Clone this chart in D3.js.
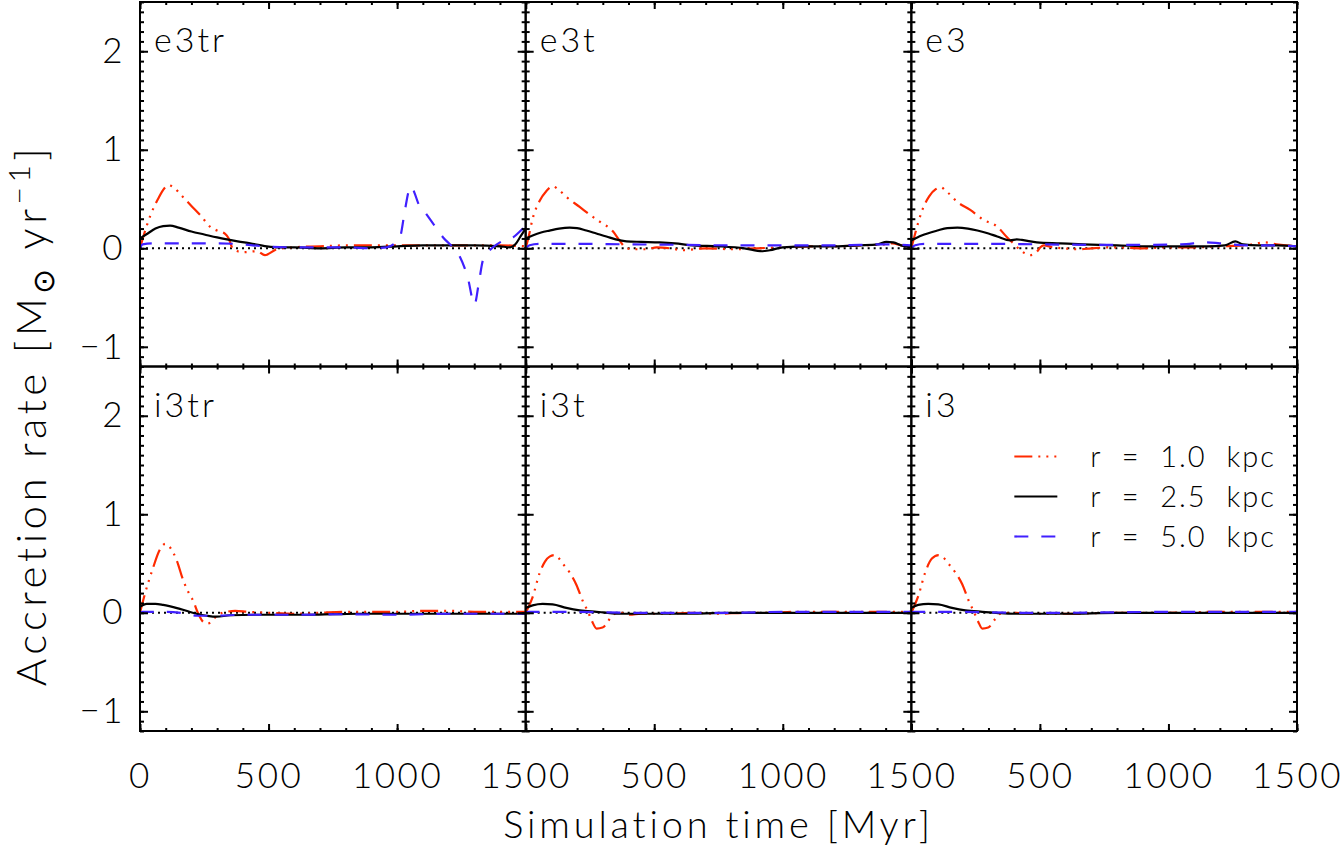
<!DOCTYPE html>
<html>
<head>
<meta charset="utf-8">
<script src="https://cdn.jsdelivr.net/npm/d3@7"></script>
<style>
  body { margin: 0; background: #fff; }
  svg { font-family: Lato, 'Open Sans', sans-serif; font-weight: 300; }
</style>
</head>
<body>
<svg id="chart" width="1343" height="847"></svg>
<script>
// accretion rate series, [time Myr, rate Msun/yr]
const e3trR10 = [[0,0],[12,0.11],[40,0.33],[70,0.5],[95,0.61],[110,0.64],[130,0.62],[160,0.54],[200,0.43],[240,0.32],[272,0.22],[300,0.18],[330,0.15],[345,0.1],[362,-0.01],[400,-0.04],[455,-0.03],[486,-0.07],[532,-0.01],[600,0.01],[700,0.02],[800,0.03],[900,0.03],[1000,0.03],[1100,0.03],[1200,0.03],[1300,0.03],[1400,0.03],[1500,0.02]];
const e3trR25 = [[0,0.1],[30,0.15],[60,0.2],[90,0.225],[117,0.23],[150,0.21],[200,0.17],[250,0.14],[300,0.11],[338,0.09],[380,0.07],[428,0.05],[493,0.02],[543,0.01],[600,0.01],[700,0],[800,0.01],[900,0.01],[1000,0.02],[1100,0.03],[1200,0.03],[1300,0.03],[1400,0.02],[1440,0.01],[1460,0.04],[1480,0.12],[1500,0.2]];
const e3trR50 = [[0,0],[10,0.04],[50,0.05],[150,0.05],[300,0.05],[400,0.04],[480,0.02],[600,0.01],[700,0.01],[800,0.01],[900,0],[960,0.01],[990,0.05],[1011,0.11],[1030,0.38],[1045,0.58],[1056,0.63],[1068,0.56],[1085,0.44],[1101,0.39],[1140,0.25],[1179,0.11],[1220,0],[1245,-0.09],[1275,-0.3],[1301,-0.57],[1318,-0.35],[1334,-0.12],[1373,0.01],[1400,0.06],[1451,0.11],[1490,0.2],[1500,0.22]];

const e3tR10 = [[0,0],[10,0.1],[27,0.3],[54,0.48],[80,0.58],[105,0.63],[130,0.59],[159,0.52],[210,0.42],[250,0.34],[288,0.27],[340,0.17],[365,0.08],[392,0],[430,-0.01],[470,-0.01],[510,0.01],[560,0],[611,-0.02],[700,0],[800,-0.01],[900,0],[1000,0.01],[1100,0.02],[1200,0.02],[1300,0.03],[1400,0.04],[1428,0.05],[1460,0.03],[1500,0.02]];
const e3tR25 = [[0,0.1],[27,0.13],[60,0.16],[93,0.18],[130,0.2],[171,0.21],[200,0.205],[236,0.18],[275,0.15],[314,0.12],[350,0.09],[392,0.07],[450,0.065],[521,0.06],[580,0.05],[650,0.03],[750,0.02],[850,0],[920,-0.03],[950,-0.02],[1000,0.01],[1100,0.02],[1200,0.02],[1300,0.03],[1370,0.04],[1403,0.065],[1430,0.06],[1460,0.03],[1500,0.01]];
const e3tR50 = [[0,0],[15,0.03],[50,0.045],[200,0.045],[400,0.04],[600,0.035],[800,0.03],[1000,0.03],[1200,0.03],[1300,0.035],[1400,0.04],[1500,0.03]];

const e3R10 = [[0,0],[15,0.15],[40,0.37],[70,0.53],[95,0.6],[113,0.62],[140,0.57],[179,0.47],[229,0.39],[280,0.29],[334,0.22],[373,0.11],[397,0.05],[424,-0.02],[463,-0.07],[490,-0.03],[502,0.01],[515,0.03],[550,0.01],[591,0],[650,-0.01],[700,0],[800,0.01],[900,0],[1000,0.01],[1100,0.01],[1200,0.02],[1300,0.03],[1377,0.06],[1420,0.04],[1500,0.02]];
const e3R25 = [[0,0.08],[40,0.13],[101,0.18],[140,0.205],[179,0.21],[220,0.2],[257,0.18],[300,0.15],[334,0.12],[385,0.08],[410,0.09],[430,0.085],[488,0.06],[580,0.05],[669,0.04],[800,0.03],[930,0.02],[1050,0.02],[1150,0.02],[1220,0.03],[1260,0.07],[1290,0.04],[1350,0.03],[1420,0.03],[1500,0.02]];
const e3R50 = [[0,0],[15,0.03],[50,0.045],[300,0.045],[500,0.04],[700,0.035],[900,0.035],[1050,0.04],[1150,0.06],[1200,0.05],[1300,0.03],[1400,0.03],[1500,0.02]];

const i3trR10 = [[0,0],[20,0.2],[50,0.45],[75,0.63],[99,0.7],[115,0.67],[143,0.53],[168,0.33],[190,0.2],[207,0.12],[225,0],[245,-0.09],[262,-0.11],[282,-0.08],[298,-0.03],[320,0],[337,0.01],[370,0.02],[420,0.01],[500,0],[600,-0.01],[700,0],[800,0.01],[900,0.01],[1000,0.01],[1100,0.02],[1200,0.02],[1300,0.01],[1400,0.01],[1500,0.01]];
const i3trR25 = [[0,0.06],[26,0.09],[60,0.09],[90,0.08],[155,0.04],[220,-0.01],[260,-0.03],[298,-0.04],[350,-0.025],[450,-0.02],[550,-0.02],[650,-0.02],[750,-0.015],[850,-0.01],[1000,-0.01],[1200,-0.01],[1500,-0.01]];
const i3trR50 = [[0,0],[10,0.01],[100,0.01],[180,-0.01],[220,-0.03],[300,-0.03],[400,-0.02],[600,-0.02],[800,-0.015],[1000,-0.02],[1200,-0.01],[1500,-0.01]];

const i3tR10 = [[0,0],[27,0.16],[54,0.4],[75,0.52],[93,0.57],[113,0.585],[130,0.55],[144,0.5],[171,0.41],[198,0.28],[222,0.12],[241,0.02],[257,-0.08],[276,-0.16],[299,-0.15],[315,-0.11],[327,-0.06],[346,-0.01],[380,0],[404,-0.02],[450,-0.01],[550,-0.01],[650,0],[750,-0.01],[850,0],[950,0],[1050,0.01],[1150,0.01],[1250,0.01],[1350,0.01],[1500,0.01]];
const i3tR25 = [[0,0.05],[27,0.075],[66,0.09],[105,0.085],[158,0.05],[210,0.025],[276,0.01],[300,0.005],[350,-0.01],[450,-0.01],[600,-0.01],[800,0],[1000,0],[1200,0],[1500,0]];
const i3tR50 = [[0,0],[10,0.01],[200,0.01],[400,0],[600,0],[800,0],[1000,0.01],[1200,0.01],[1500,0.01]];

const i3R10 = [[0,0],[27,0.17],[54,0.41],[80,0.55],[106,0.585],[125,0.56],[144,0.5],[171,0.41],[198,0.29],[222,0.13],[245,0],[260,-0.09],[276,-0.16],[299,-0.15],[327,-0.06],[346,-0.01],[400,0],[480,-0.01],[600,-0.01],[800,0],[1000,0],[1200,0.01],[1500,0.01]];
const i3R25 = [[0,0.05],[27,0.08],[66,0.09],[105,0.085],[158,0.05],[210,0.025],[276,0.01],[330,0],[400,-0.01],[600,-0.01],[800,0],[1000,0],[1500,0]];
const i3R50 = [[0,0],[10,0.01],[200,0.01],[400,0],[600,0],[800,0.005],[1000,0.01],[1200,0.01],[1500,0.01]];

const panelNames = ['e3tr', 'e3t', 'e3', 'i3tr', 'i3t', 'i3'];
const panelSeries = [
  [e3trR10, e3trR25, e3trR50],
  [e3tR10, e3tR25, e3tR50],
  [e3R10, e3R25, e3R50],
  [i3trR10, i3trR25, i3trR50],
  [i3tR10, i3tR25, i3tR50],
  [i3R10, i3R25, i3R50]
];
const radii = ['1.0', '2.5', '5.0'];
const xTicks = [0, 500, 1000, 1500];
const xMinor = d3.range(0, 1501, 100);
const yTicks = [-1, 0, 1, 2];
const yMinor = d3.range(-12, 26).map((d) => d / 10);

// line looks per radius
const colors = ['#ff2a00', '#000000', '#4020ff'];
const dashes = ['18,6,2,6,2,6,2,6', null, '14,13'];

// layout
const marginLeft = 140, marginTop = 2;
const pw = (1297 - 140) / 3, ph = (731 - 2) / 2;
const font = 35;

const svg = d3.select('#chart');

const x = d3.scaleLinear([0, 1500], [0, pw]);
const y = d3.scaleLinear([-1.2, 2.5], [ph, 0]);

const line = d3.line()
  .x(([t]) => x(t))
  .y(([, v]) => y(v))
  .curve(d3.curveMonotoneX);

// tidy an axis group
const styleAxis = (g) => {
  g.select('.domain').remove();
  g.selectAll('.tick line').attr('stroke', '#000').attr('stroke-width', 2);
  g.attr('font-family', null).attr('font-size', font);
  g.selectAll('text').attr('fill', '#000').style('letter-spacing', '2.5px');
};

panelNames.forEach((name, i) => {
  const col = i % 3, row = Math.floor(i / 3);
  const g = svg.append('g')
      .attr('transform', `translate(${marginLeft + col * pw}, ${marginTop + row * ph})`);

  // zero line
  g.append('line')
      .attr('x1', 0)
      .attr('x2', pw)
      .attr('y1', y(0))
      .attr('y2', y(0))
      .attr('stroke', '#000')
      .attr('stroke-width', 2)
      .attr('stroke-dasharray', '2,4');

  // data lines
  panelSeries[i].forEach((data, k) => {
    g.append('path')
        .datum(data)
        .attr('d', line)
        .attr('fill', 'none')
        .attr('stroke', colors[k])
        .attr('stroke-width', 2.2)
        .attr('stroke-dasharray', dashes[k]);
  });

  // minor ticks on all sides
  g.append('g').attr('transform', `translate(0, ${ph})`)
      .call(d3.axisBottom(x).tickValues(xMinor).tickSize(-3).tickFormat('')).call(styleAxis);
  g.append('g')
      .call(d3.axisTop(x).tickValues(xMinor).tickSize(-3).tickFormat('')).call(styleAxis);
  g.append('g')
      .call(d3.axisLeft(y).tickValues(yMinor).tickSize(-4).tickFormat('')).call(styleAxis);
  g.append('g').attr('transform', `translate(${pw}, 0)`)
      .call(d3.axisRight(y).tickValues(yMinor).tickSize(-4).tickFormat('')).call(styleAxis);

  // major ticks, labels only on outer edges; the 0 of inner columns sits under the previous 1500
  const xLabel = (d) => (row === 1 && !(col > 0 && d === 0)) ? d3.format('d')(d) : '';
  g.append('g').attr('transform', `translate(0, ${ph})`)
      .call(d3.axisBottom(x).tickValues(xTicks).tickSize(-7).tickPadding(32)
        .tickFormat(xLabel)).call(styleAxis);
  g.append('g')
      .call(d3.axisTop(x).tickValues(xTicks).tickSize(-7).tickFormat('')).call(styleAxis);
  g.append('g')
      .call(d3.axisLeft(y).tickValues(yTicks).tickSize(-8).tickPadding(15)
        .tickFormat(col === 0 ? d3.format('d') : '')).call(styleAxis);
  g.append('g').attr('transform', `translate(${pw}, 0)`)
      .call(d3.axisRight(y).tickValues(yTicks).tickSize(-8).tickFormat('')).call(styleAxis);

  // frame
  g.append('rect')
      .attr('width', pw)
      .attr('height', ph)
      .attr('fill', 'none')
      .attr('stroke', '#000')
      .attr('stroke-width', 2);

  // panel name
  g.append('text')
      .attr('x', 14)
      .attr('y', 50)
      .attr('font-size', 34)
      .style('letter-spacing', '3px')
      .text(name);

  // legend in last panel
  if (i === 5) {
    const lg = g.append('g').attr('transform', 'translate(103, 90)');
    radii.forEach((r, k) => {
      const ly = k * 40;
      lg.append('line')
          .attr('x1', 0)
          .attr('x2', 43)
          .attr('y1', ly)
          .attr('y2', ly)
          .attr('stroke', colors[k])
          .attr('stroke-width', 2.2)
          .attr('stroke-dasharray', dashes[k]);
      lg.append('text')
          .attr('x', 76)
          .attr('y', ly + 10)
          .attr('font-size', 29)
          .style('white-space', 'pre')
          .style('letter-spacing', '2px')
          .text(`r  =  ${r}  kpc`);
    });
  }
});

// axis titles
svg.append('text')
    .attr('x', marginLeft + 1.5 * pw)
    .attr('y', 838)
    .attr('text-anchor', 'middle')
    .attr('font-size', 38)
    .style('letter-spacing', '3.8px')
    .text('Simulation time [Myr]');

const yt = svg.append('text')
    .attr('transform', 'translate(46, 415) rotate(-90)')
    .attr('text-anchor', 'middle')
    .attr('font-size', 42)
    .style('letter-spacing', '4.5px');
yt.append('tspan').text('Accretion rate [M');
yt.append('tspan').attr('dy', 8).attr('font-size', 30).text('\u2299');
yt.append('tspan').attr('dy', -8).text(' yr');
yt.append('tspan').attr('dy', -16).attr('font-size', 30).text('\u22121');
yt.append('tspan').attr('dy', 16).text(']');
</script>
</body>
</html>
